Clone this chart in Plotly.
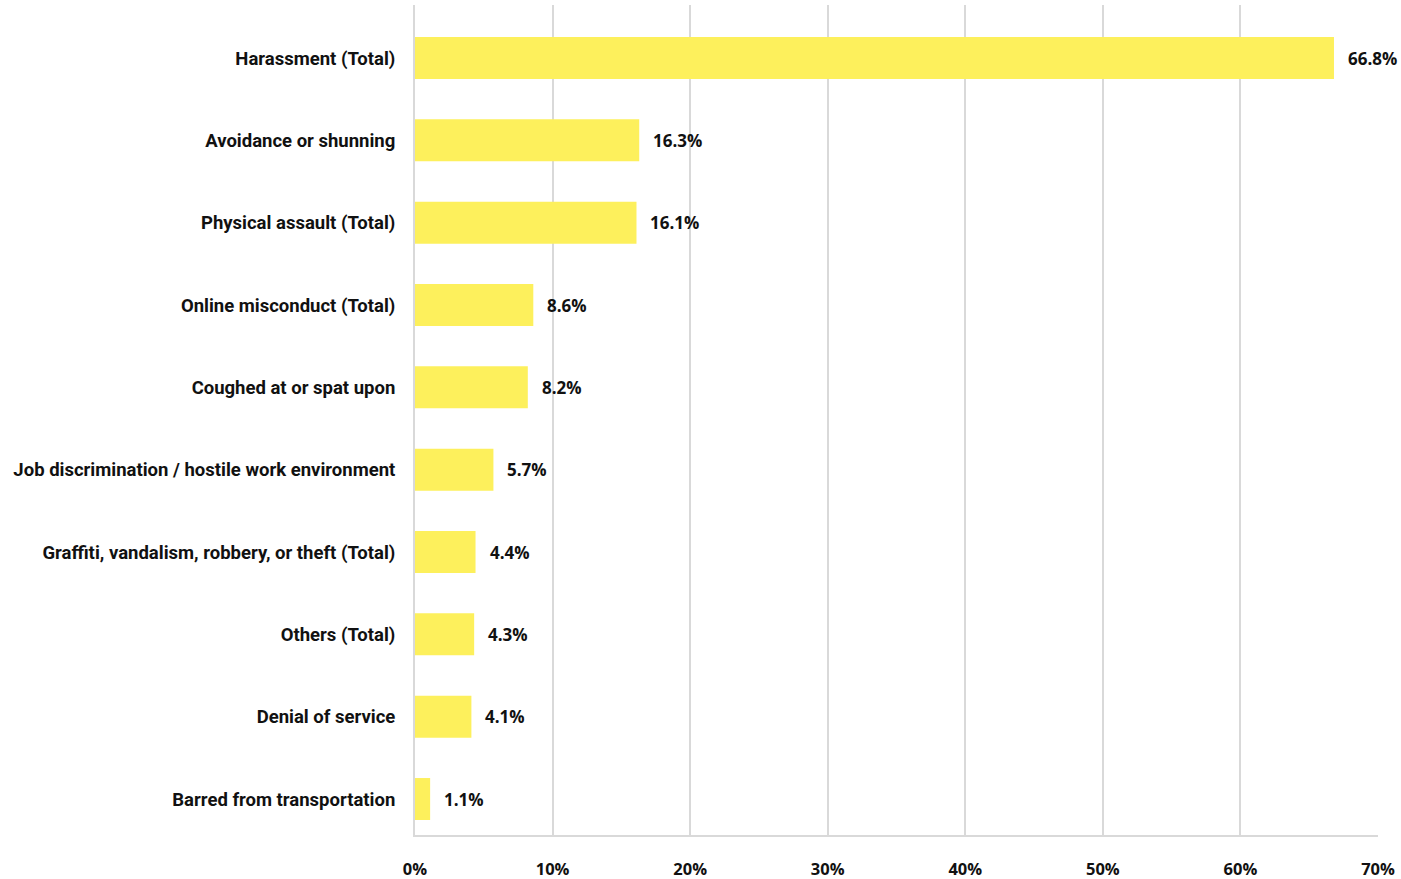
import plotly.graph_objects as go

categories = [
    "Harassment (Total)",
    "Avoidance or shunning",
    "Physical assault (Total)",
    "Online misconduct (Total)",
    "Coughed at or spat upon",
    "Job discrimination / hostile work environment",
    "Graffiti, vandalism, robbery, or theft (Total)",
    "Others (Total)",
    "Denial of service",
    "Barred from transportation",
]
values = [66.8, 16.3, 16.1, 8.6, 8.2, 5.7, 4.4, 4.3, 4.1, 1.1]
tick_vals = [0, 10, 20, 30, 40, 50, 60, 70]
tick_text = ["0%", "10%", "20%", "30%", "40%", "50%", "60%", "70%"]

fig = go.Figure()
fig.add_trace(go.Bar(
    x=values, y=categories, orientation="h",
    marker=dict(color="#FDF05C", line=dict(width=0)),
    width=0.51, hoverinfo="skip",
))

for c, v in zip(categories, values):
    fig.add_annotation(
        x=v, y=c, text=f"<b>{v:.1f}%</b>", showarrow=False,
        xanchor="left", xshift=12, yshift=0,
        font=dict(family="Open Sans", size=17, color="#111111"),
    )

fig.update_layout(
    width=1401, height=879,
    margin=dict(l=415, r=23, t=5, b=44, autoexpand=False),
    paper_bgcolor="white", plot_bgcolor="white",
    showlegend=False,
    xaxis=dict(
        range=[0, 70], tickvals=tick_vals, ticktext=[f"<b>{t}</b>" for t in tick_text],
        showgrid=True, gridcolor="#D9D9D9", gridwidth=2,
        showline=True, linecolor="#D9D9D9", linewidth=2,
        zeroline=False, ticks="", ticklabelstandoff=18, automargin=False,
        tickfont=dict(family="Open Sans", size=16.5, color="#111111"),
        fixedrange=True,
    ),
    yaxis=dict(
        categoryorder="array", categoryarray=categories[::-1],
        tickvals=categories, ticktext=[f"<b>{c}</b>" for c in categories],
        showgrid=False, showline=True, linecolor="#D9D9D9", linewidth=2,
        ticks="", ticklabelstandoff=14, range=[-0.437, 9.644], automargin=False,
        tickfont=dict(family="Roboto", size=18.5, color="#111111"),
        fixedrange=True,
    ),
)

fig.write_html("out.html")
